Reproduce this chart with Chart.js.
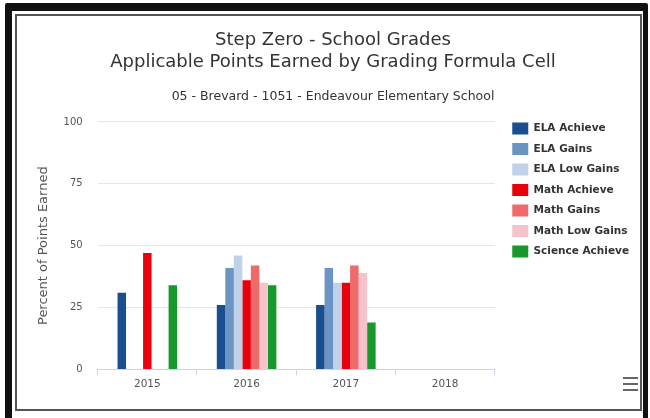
<!DOCTYPE html>
<html>
<head>
<meta charset="utf-8">
<script src="https://cdn.jsdelivr.net/npm/chart.js@4"></script>
<style>
    html, body { margin: 0; padding: 0; background: #fff; }
    body { width: 650px; height: 418px; position: relative; overflow: hidden; }
    .frame {
        position: absolute; left: 5px; top: 3px; width: 631px; height: 410px;
        border-style: solid; border-color: #111; border-width: 8px 5px 8px 7px; border-radius: 2px;
    }
    .inner {
        position: absolute; left: 15px; top: 14px; width: 623px; height: 393px;
        border: 2px solid #555; background: #fff;
    }
    #chartWrap { position: absolute; left: 17px; top: 16px; width: 623px; height: 392px; }
    .menu { position: absolute; left: 623px; top: 377px; width: 15px; }
    .menu div { height: 2px; background: #666; margin-bottom: 4px; }
</style>
</head>
<body>
<div class="frame"></div>
<div class="inner"></div>
<div id="chartWrap"><canvas id="gradesChart" width="623" height="392"></canvas></div>
<div class="menu"><div></div><div></div><div></div></div>
<script>
// 数据
const years = ['2015', '2016', '2017', '2018'];
const seriesNames = ['ELA Achieve', 'ELA Gains', 'ELA Low Gains', 'Math Achieve', 'Math Gains', 'Math Low Gains', 'Science Achieve'];
const elaAchieve = [31, 26, 26, null];
const elaGains = [null, 41, 41, null];
const elaLowGains = [null, 46, 35, null];
const mathAchieve = [47, 36, 35, null];
const mathGains = [null, 42, 42, null];
const mathLowGains = [null, 35, 39, null];
const scienceAchieve = [34, 34, 19, null];
const yTicks = [0, 25, 50, 75, 100];

const seriesValues = [elaAchieve, elaGains, elaLowGains, mathAchieve, mathGains, mathLowGains, scienceAchieve];
const seriesColors = ['#1a4f8f', '#6b94c4', '#bfd2ea', '#e8000d', '#f06a6c', '#f7c3ca', '#17982a'];

Chart.defaults.font.family = "'DejaVu Sans', sans-serif";
Chart.defaults.color = '#666';

// 图例位置微调：上移并右移
const legendNudge = {
    id: 'legendNudge',
    afterLayout(chart) {
        chart.legend.top -= 8;
        chart.legend.left += 9;
    }
};

new Chart(document.getElementById('gradesChart'), {
    type: 'bar',
    data: {
        labels: years,
        datasets: seriesNames.map((name, i) => ({
            label: name,
            data: seriesValues[i],
            backgroundColor: seriesColors[i],
            borderWidth: 0,
            categoryPercentage: 0.6,
            barPercentage: 1.0
        }))
    },
    options: {
        responsive: false,
        animation: false,
        layout: { padding: { left: 19, right: 10, top: 0, bottom: 14 } },
        plugins: {
            title: {
                display: true,
                text: ['Step Zero - School Grades', 'Applicable Points Earned by Grading Formula Cell'],
                color: '#333',
                font: { size: 18, weight: 'normal', lineHeight: 1.22 },
                padding: { top: 13, bottom: 16 }
            },
            subtitle: {
                display: true,
                text: '05 - Brevard - 1051 - Endeavour Elementary School',
                color: '#333',
                font: { size: 12.5, lineHeight: 1.2 },
                padding: { top: 0, bottom: 18 }
            },
            legend: {
                position: 'right',
                align: 'start',
                fullSize: false,
                labels: {
                    boxWidth: 16,
                    boxHeight: 12,
                    padding: 8.5,
                    color: '#333',
                    font: { size: 10.5, weight: 'bold' }
                }
            },
            tooltip: { enabled: false }
        },
        scales: {
            x: {
                grid: { drawOnChartArea: false, drawTicks: true, tickLength: 6, color: '#ccd6eb' },
                border: { color: '#ccd6eb' },
                ticks: { padding: 3, color: '#555', font: { size: 10.5 } }
            },
            y: {
                min: 0,
                max: 100,
                afterBuildTicks: axis => { axis.ticks = yTicks.map(v => ({ value: v })); },
                grid: { color: '#e6e6e6', drawTicks: false },
                border: { display: false },
                ticks: { padding: 15, color: '#555', font: { size: 10 } },
                title: {
                    display: true,
                    text: 'Percent of Points Earned',
                    color: '#555',
                    font: { size: 13 },
                    padding: { top: 0, bottom: -3 }
                }
            }
        }
    },
    plugins: [legendNudge]
});
</script>
</body>
</html>
